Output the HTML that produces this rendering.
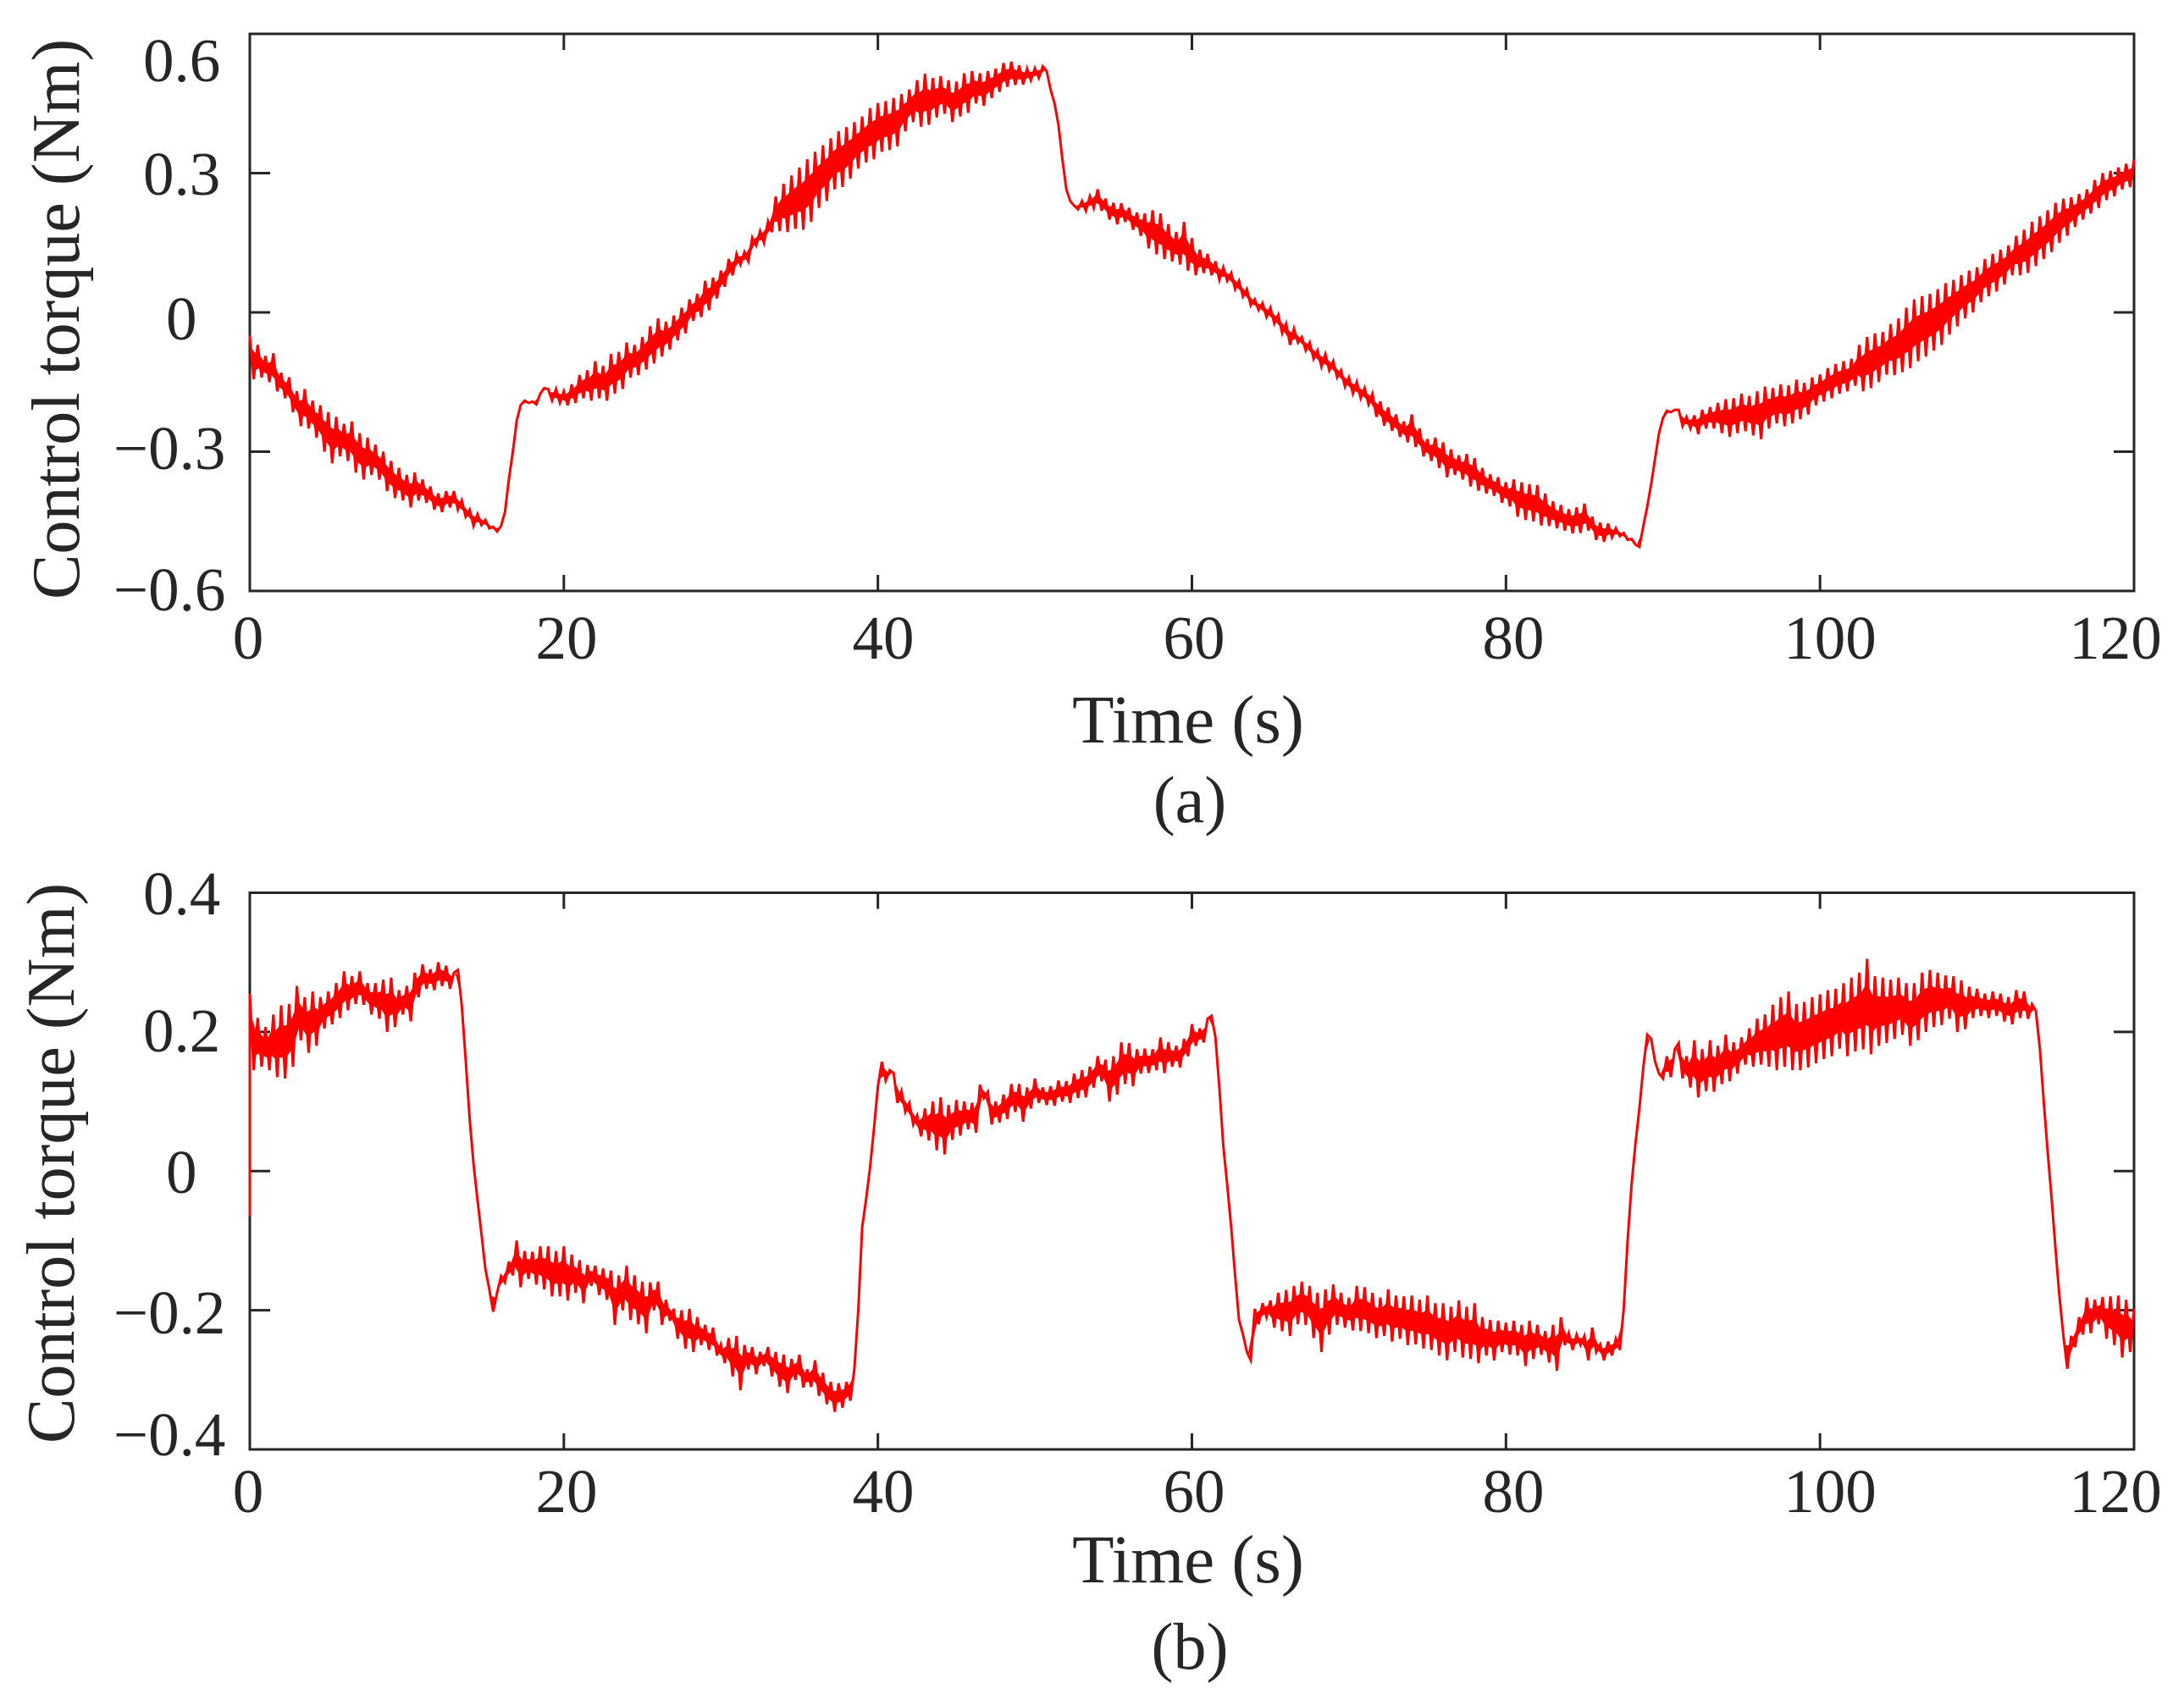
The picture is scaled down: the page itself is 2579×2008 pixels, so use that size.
<!DOCTYPE html>
<html lang="en">
<head>
<meta charset="utf-8">
<title>Control torque versus time</title>
<style>
html,body{margin:0;padding:0;background:#fff}
svg{display:block}
text{font-family:"Liberation Serif",serif;fill:#262626}
.tick{font-size:73px}
.label{font-size:80px}
.time{font-size:81px}
.caption{font-size:78px}
</style>
</head>
<body>
<svg id="figure" xmlns="http://www.w3.org/2000/svg" width="2579" height="2008" viewBox="0 0 2579 2008">
<rect width="2579" height="2008" fill="#fff"/>
<g id="panel-a">
<rect x="295" y="40" width="2225" height="658" fill="none" stroke="#262626" stroke-width="3"/>
<g id="ticks-a"></g>
<g>
<text class="tick" x="169" y="96">0.6</text>
<text class="tick" x="169" y="230">0.3</text>
<text class="tick" x="196" y="401">0</text>
<text class="tick" x="134" y="554">−0.3</text>
<text class="tick" x="134" y="721">−0.6</text>
</g>
<g>
<text class="tick" x="293" y="778" text-anchor="middle">0</text>
<text class="tick" x="669" y="778" text-anchor="middle">20</text>
<text class="tick" x="1043" y="778" text-anchor="middle">40</text>
<text class="tick" x="1410" y="778" text-anchor="middle">60</text>
<text class="tick" x="1787" y="778" text-anchor="middle">80</text>
<text class="tick" x="2161" y="778" text-anchor="middle">100</text>
<text class="tick" x="2498" y="778" text-anchor="middle">120</text>
</g>
<text class="label" transform="translate(93,708) rotate(-90)">Control torque (Nm)</text>
<text class="label time" x="1403" y="877" text-anchor="middle">Time (s)</text>
<text class="caption" x="1405" y="971" text-anchor="middle">(a)</text>
</g>
<g id="panel-b">
<rect x="295" y="1054.5" width="2225" height="657.5" fill="none" stroke="#262626" stroke-width="3"/>
<g id="ticks-b"></g>
<g>
<text class="tick" x="169" y="1080">0.4</text>
<text class="tick" x="169" y="1242">0.2</text>
<text class="tick" x="196" y="1409">0</text>
<text class="tick" x="134" y="1575">−0.2</text>
<text class="tick" x="134" y="1719">−0.4</text>
</g>
<g>
<text class="tick" x="293" y="1786" text-anchor="middle">0</text>
<text class="tick" x="669" y="1786" text-anchor="middle">20</text>
<text class="tick" x="1043" y="1786" text-anchor="middle">40</text>
<text class="tick" x="1410" y="1786" text-anchor="middle">60</text>
<text class="tick" x="1787" y="1786" text-anchor="middle">80</text>
<text class="tick" x="2161" y="1786" text-anchor="middle">100</text>
<text class="tick" x="2498" y="1786" text-anchor="middle">120</text>
</g>
<text class="label" transform="translate(87,1705) rotate(-90)">Control torque (Nm)</text>
<text class="label time" x="1403" y="1869" text-anchor="middle">Time (s)</text>
<text class="caption" x="1405" y="1971" text-anchor="middle">(b)</text>
</g>
</svg>
<script>
const sampleStepSeconds = 0.25;
const xTickValues = [20, 40, 60, 80, 100];
const yTickValuesA = [-0.3, 0, 0.3];
const yTickValuesB = [-0.2, 0, 0.2];
const onsetValuesA = [];
const onsetValuesB = [-.065];
const torqueA = [
-.05,-.144,-.07,-.14,
-.094,-.15,-.088,-.17,
-.13,-.185,-.14,-.215,
-.17,-.245,-.165,-.25,
-.19,-.27,-.20,-.30,
-.215,-.325,-.225,-.31,
-.24,-.32,-.235,-.345,
-.26,-.36,-.27,-.35,
-.285,-.36,-.30,-.385,
-.32,-.40,-.335,-.405,
-.35,-.42,-.345,-.405,
-.36,-.41,-.375,-.425,
-.39,-.43,-.385,-.42,
-.385,-.425,-.405,-.44,
-.425,-.46,-.435,-.458,
-.447,-.465,-.462,-.472,
-.46,-.43,-.36,-.30,
-.233,-.20,-.19,-.195,
-.192,-.198,-.175,-.163,
-.165,-.19,-.165,-.195,
-.17,-.2,-.155,-.195,
-.135,-.185,-.125,-.19,
-.105,-.185,-.115,-.19,
-.09,-.175,-.085,-.165,
-.065,-.14,-.07,-.135,
-.053,-.123,-.03,-.11,
-.013,-.095,-.02,-.08,
-.007,-.06,.01,-.045,
.028,-.018,.04,-.01,
.068,.005,.075,.03,
.09,.055,.115,.08,
.126,.103,.13,.11,
.161,.144,.175,.15,
.196,.173,.25,.175,
.277,.173,.295,.18,
.312,.178,.33,.195,
.346,.225,.36,.24,
.375,.265,.39,.27,
.399,.288,.41,.31,
.422,.323,.44,.33,
.451,.346,.455,.35,
.462,.358,.47,.39,
.48,.41,.50,.40,
.514,.404,.505,.42,
.509,.428,.50,.41,
.497,.422,.515,.43,
.52,.45,.515,.445,
.52,.462,.525,.475,
.537,.486,.54,.49,
.532,.491,.525,.50,
.526,.505,.53,.52,
.48,.45,.404,.33,
.265,.24,.23,.222,
.24,.219,.25,.225,
.265,.219,.245,.2,
.236,.19,.235,.195,
.225,.178,.215,.165,
.213,.138,.22,.125,
.213,.115,.19,.11,
.173,.103,.195,.09,
.16,.08,.135,.085,
.126,.08,.11,.07,
.097,.068,.085,.05,
.068,.034,.05,.015,
.028,.005,.02,-.01,
.01,-.024,-.005,-.045,
-.024,-.07,-.035,-.065,
-.053,-.082,-.065,-.10,
-.082,-.117,-.09,-.125,
-.105,-.14,-.125,-.16,
-.14,-.175,-.15,-.185,
-.163,-.198,-.175,-.225,
-.192,-.244,-.205,-.255,
-.22,-.268,-.235,-.28,
-.22,-.29,-.25,-.31,
-.273,-.32,-.27,-.335,
-.28,-.355,-.295,-.35,
-.308,-.36,-.305,-.375,
-.314,-.384,-.335,-.39,
-.349,-.395,-.355,-.41,
-.366,-.418,-.36,-.44,
-.366,-.447,-.37,-.45,
-.372,-.459,-.39,-.46,
-.407,-.465,-.415,-.47,
-.424,-.476,-.42,-.475,
-.412,-.47,-.44,-.49,
-.453,-.494,-.455,-.485,
-.465,-.482,-.475,-.49,
-.488,-.5,-.505,-.46,
-.418,-.37,-.314,-.26,
-.227,-.212,-.215,-.21,
-.21,-.245,-.225,-.25,
-.222,-.262,-.21,-.25,
-.204,-.25,-.195,-.26,
-.187,-.268,-.185,-.26,
-.175,-.256,-.18,-.265,
-.17,-.273,-.16,-.25,
-.163,-.239,-.155,-.245,
-.157,-.239,-.145,-.23,
-.152,-.22,-.14,-.2,
-.134,-.192,-.12,-.185,
-.111,-.175,-.105,-.17,
-.1,-.158,-.07,-.17,
-.053,-.163,-.045,-.15,
-.042,-.134,-.025,-.135,
-.013,-.129,.01,-.12,
.028,-.105,.035,-.095,
.04,-.082,.05,-.07,
.063,-.048,.07,-.03,
.08,-.013,.09,.0,
.097,.022,.115,.035,
.126,.045,.135,.06,
.144,.08,.165,.08,
.178,.085,.195,.10,
.207,.115,.22,.13,
.236,.15,.245,.165,
.248,.184,.255,.2,
.265,.213,.285,.225,
.3,.242,.305,.25,
.312,.265,.32,.27,
.329
];
const torqueB = [
.255,.145,.22,.15,
.207,.145,.225,.135,
.238,.133,.24,.15,
.266,.188,.25,.17,
.258,.18,.25,.205,
.258,.211,.27,.22,
.287,.231,.28,.24,
.287,.239,.27,.225,
.27,.219,.275,.20,
.278,.207,.26,.225,
.266,.215,.285,.25,
.297,.262,.29,.26,
.30,.266,.295,.262,
.285,.289,.238,.16,
.075,.01,-.042,-.09,
-.14,-.17,-.202,-.175,
-.151,-.16,-.13,-.15,
-.10,-.167,-.115,-.155,
-.116,-.163,-.108,-.17,
-.108,-.18,-.115,-.18,
-.108,-.186,-.12,-.175,
-.128,-.19,-.135,-.165,
-.136,-.178,-.14,-.185,
-.143,-.221,-.15,-.20,
-.136,-.214,-.15,-.22,
-.159,-.233,-.16,-.20,
-.159,-.221,-.185,-.215,
-.198,-.241,-.20,-.255,
-.198,-.26,-.21,-.25,
-.221,-.257,-.225,-.265,
-.249,-.276,-.24,-.295,
-.237,-.315,-.25,-.285,
-.253,-.292,-.26,-.28,
-.253,-.295,-.26,-.31,
-.264,-.319,-.27,-.30,
-.264,-.311,-.285,-.31,
-.272,-.323,-.29,-.335,
-.303,-.346,-.305,-.34,
-.303,-.33,-.284,-.20,
-.081,-.04,.005,.06,
.122,.157,.13,.145,
.141,.098,.115,.085,
.098,.067,.08,.05,
.09,.044,.10,.03,
.106,.024,.095,.045,
.102,.051,.10,.06,
.098,.055,.124,.105,
.114,.067,.10,.07,
.11,.075,.125,.085,
.125,.071,.12,.09,
.133,.098,.12,.095,
.122,.094,.13,.10,
.129,.098,.14,.105,
.145,.106,.15,.12,
.165,.129,.16,.10,
.165,.11,.185,.125,
.184,.122,.175,.14,
.176,.141,.175,.145,
.192,.141,.185,.15,
.18,.149,.19,.165,
.211,.18,.205,.185,
.219,.223,.192,.12,
.036,-.02,-.081,-.15,
-.214,-.235,-.26,-.272,
-.198,-.22,-.19,-.21,
-.186,-.225,-.175,-.23,
-.171,-.237,-.165,-.22,
-.159,-.221,-.165,-.24,
-.175,-.26,-.17,-.235,
-.163,-.221,-.175,-.225,
-.182,-.229,-.165,-.23,
-.167,-.233,-.175,-.24,
-.182,-.237,-.17,-.245,
-.179,-.241,-.18,-.25,
-.179,-.249,-.185,-.255,
-.179,-.257,-.19,-.265,
-.19,-.272,-.195,-.26,
-.186,-.268,-.195,-.27,
-.19,-.276,-.21,-.265,
-.214,-.272,-.215,-.26,
-.218,-.264,-.215,-.265,
-.221,-.28,-.215,-.27,
-.221,-.264,-.23,-.275,
-.221,-.287,-.21,-.25,
-.233,-.257,-.235,-.25,
-.237,-.272,-.225,-.26,
-.249,-.272,-.245,-.265,
-.241,-.257,-.198,-.10,
-.019,.04,.09,.15,
.196,.19,.157,.14,
.133,.165,.135,.175,
.184,.133,.165,.12,
.188,.106,.175,.115,
.188,.114,.18,.125,
.196,.129,.185,.14,
.192,.153,.205,.15,
.219,.153,.225,.15,
.239,.145,.25,.15,
.258,.145,.24,.145,
.243,.149,.25,.155,
.254,.161,.26,.165,
.262,.176,.27,.165,
.278,.172,.285,.175,
.305,.168,.28,.18,
.278,.184,.275,.19,
.278,.196,.27,.18,
.27,.188,.285,.20,
.289,.207,.285,.21,
.281,.219,.28,.20,
.274,.204,.265,.22,
.262,.223,.255,.22,
.258,.223,.255,.215,
.25,.211,.26,.22,
.258,.219,.24,.23,
.176,.10,.028,-.04,
-.112,-.18,-.237,-.284,
-.237,-.253,-.21,-.235,
-.182,-.233,-.185,-.22,
-.181,-.241,-.18,-.25,
-.179,-.268,-.185,-.26,
-.198
];

const SVG_NS = 'http://www.w3.org/2000/svg';
const INK = '#262626';
const xLeft = 295;
const xRight = 2520;
const spikeShare = 0.28;
function xScale(t) {
  return xLeft + (t / 120) * (xRight - xLeft);
}
function yScaleFactory(vMin, vMax, yBottom, yTop) {
  return function (v) {
    return yBottom - ((v - vMin) / (vMax - vMin)) * (yBottom - yTop);
  };
}
const yScaleA = yScaleFactory(-0.6, 0.6, 698, 40);
const yScaleB = yScaleFactory(-0.4, 0.4, 1712, 1054.5);

function addTickLine(parent, x1, y1, x2, y2) {
  const tick = document.createElementNS(SVG_NS, 'line');
  
  
  tick.setAttribute('x1', x1);
  tick.setAttribute('y1', y1);
  tick.setAttribute('x2', x2);
  tick.setAttribute('y2', y2);
  tick.setAttribute('stroke', INK);
  tick.setAttribute('stroke-width', 3);
  parent.appendChild(tick);
}

function drawTicks(groupId, yScale, yTickValues, yTop, yBottom) {
  const group = document.getElementById(groupId);
  xTickValues.forEach(function (t) {
    const x = xScale(t);
    addTickLine(group, x, yBottom, x, yBottom - 19);
    addTickLine(group, x, yTop, x, yTop + 19);
  });
  yTickValues.forEach(function (v) {
    const y = yScale(v);
    addTickLine(group, xLeft, y, xLeft + 24, y);
    addTickLine(group, xRight, y, xRight - 24, y);
  });
}

function towards(p, q, share) {
  return [p[0] + (q[0] - p[0]) * share, p[1] + (q[1] - p[1]) * share];
}

function drawSeries(panelId, name, onset, values, yScale) {
  const pts = [];
  onset.forEach(function (v) {
    pts.push([xScale(0), yScale(v)]);
  });
  values.forEach(function (v, i) {
    pts.push([xScale(i * sampleStepSeconds), yScale(v)]);
  });
  /* The recorded signal oscillates faster than the sample grid: the core of
     every reversal is shaded, while the outer share of each swing stays a
     bare spike of the trace. */
  let band = '';
  for (let i = onset.length; i + 2 < pts.length; i++) {
    const a = pts[i], b = pts[i + 1], c = pts[i + 2];
    if ((b[1] - a[1]) * (c[1] - b[1]) >= 0) continue;
    const mid = [(a[0] + c[0]) / 2, (a[1] + c[1]) / 2];
    const a2 = towards(a, b, spikeShare);
    const b2 = towards(b, mid, spikeShare);
    const c2 = towards(c, b, spikeShare);
    const cross = (b2[0] - a2[0]) * (c2[1] - a2[1]) - (b2[1] - a2[1]) * (c2[0] - a2[0]);
    const p = cross > 0 ? [a2, b2, c2] : [a2, c2, b2];
    band += 'M' + p.map(function (q) { return q[0].toFixed(1) + ' ' + q[1].toFixed(1); }).join('L') + 'Z';
  }
  const fill = document.createElementNS(SVG_NS, 'path');
  
  
  fill.setAttribute('d', band);
  fill.setAttribute('fill', '#ff0000');
  document.getElementById(panelId).appendChild(fill);

  const line = document.createElementNS(SVG_NS, 'polyline');
  
  
  line.setAttribute('points', pts.map(function (q) { return q[0].toFixed(1) + ',' + q[1].toFixed(1); }).join(' '));
  line.setAttribute('fill', 'none');
  line.setAttribute('stroke', '#ff0000');
  line.setAttribute('stroke-width', 3);
  line.setAttribute('stroke-linejoin', 'miter');
  document.getElementById(panelId).appendChild(line);
}

drawTicks('ticks-a', yScaleA, yTickValuesA, 40, 698);
drawTicks('ticks-b', yScaleB, yTickValuesB, 1054.5, 1712);
drawSeries('panel-a', 'control-torque-line-a', onsetValuesA, torqueA, yScaleA);
drawSeries('panel-b', 'control-torque-line-b', onsetValuesB, torqueB, yScaleB);
</script>
</body>
</html>
